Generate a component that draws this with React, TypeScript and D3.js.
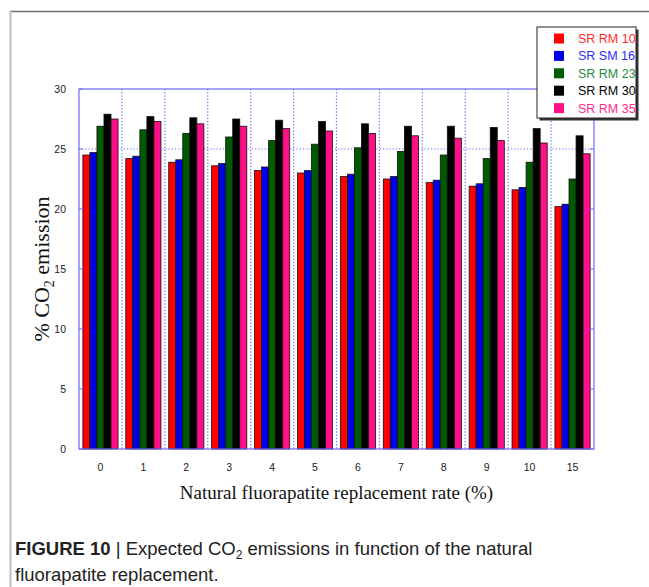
import React from "react";
import * as d3 from "d3";

const categories = ["0", "1", "2", "3", "4", "5", "6", "7", "8", "9", "10", "15"];
const seriesNames = ["SR RM 10", "SR SM 16", "SR RM 23", "SR RM 30", "SR RM 35"];
const srRm10 = [24.5, 24.2, 23.9, 23.6, 23.2, 23.0, 22.7, 22.5, 22.2, 21.9, 21.6, 20.2];
const srSm16 = [24.7, 24.4, 24.1, 23.8, 23.5, 23.2, 22.9, 22.7, 22.4, 22.1, 21.8, 20.4];
const srRm23 = [26.9, 26.6, 26.3, 26.0, 25.7, 25.4, 25.1, 24.8, 24.5, 24.2, 23.9, 22.5];
const srRm30 = [27.9, 27.7, 27.6, 27.5, 27.4, 27.3, 27.1, 26.9, 26.9, 26.8, 26.7, 26.1];
const srRm35 = [27.5, 27.3, 27.1, 26.9, 26.7, 26.5, 26.3, 26.1, 25.9, 25.7, 25.5, 24.6];
const yTicks = [0, 5, 10, 15, 20, 25, 30];

const barColors = ["#ff0000", "#0000e6", "#005a00", "#000000", "#ff1088"];
const textColors = ["#ff2a2a", "#2a2aff", "#1f8a3c", "#000000", "#ff2a90"];

const W = 649;
const H = 587;
const M = { left: 79, right: 594, top: 89, bottom: 449 };

export default function App() {
  const series = [srRm10, srSm16, srRm23, srRm30, srRm35];

  const x = d3.scaleBand().domain(categories).range([M.left, M.right]).padding(0);
  const xInner = d3
    .scaleBand()
    .domain(seriesNames)
    .range([0, x.bandwidth()])
    .paddingInner(0)
    .paddingOuter(0.55);
  const y = d3.scaleLinear().domain([0, 30]).range([M.bottom, M.top]);

  const axisBlue = "#6b6bff";
  const sans = "Liberation Sans, Arial, sans-serif";
  const serif = "Liberation Serif, Times New Roman, serif";

  return (
    <svg
      width={W}
      height={H}
      style={{ position: "absolute", left: 0, top: 0, background: "#fff" }}
    >
      {/* frame */}
      <line x1={10} x2={W} y1={11.5} y2={11.5} stroke="#707070" strokeWidth={1.5} />
      <line x1={10.5} x2={10.5} y1={11} y2={H} stroke="#bdbdbd" strokeWidth={2} />

      {/* grid */}
      {categories.slice(1).map((c) => (
        <line
          key={c}
          x1={x(c)!}
          x2={x(c)!}
          y1={M.top}
          y2={M.bottom}
          stroke={axisBlue}
          strokeWidth={1.2}
          strokeDasharray="1.2,2"
        />
      ))}
      <line
        x1={M.left}
        x2={M.right}
        y1={y(25)}
        y2={y(25)}
        stroke={axisBlue}
        strokeWidth={1.2}
        strokeDasharray="1.2,2"
      />

      {/* bars */}
      {categories.map((c, i) => (
        <g key={c} transform={`translate(${x(c)},0)`}>
          {series.map((vals, s) => (
            <rect
              key={s}
              x={xInner(seriesNames[s])!}
              y={y(vals[i])}
              width={xInner.bandwidth()}
              height={y(0) - y(vals[i])}
              fill={barColors[s]}
              stroke="#111"
              strokeWidth={0.8}
            />
          ))}
        </g>
      ))}

      {/* plot box */}
      <rect
        x={M.left}
        y={M.top}
        width={M.right - M.left}
        height={M.bottom - M.top}
        fill="none"
        stroke={axisBlue}
        strokeWidth={1.2}
      />
      {yTicks.map((t) => (
        <g key={t}>
          <line x1={M.left} x2={M.left + 4} y1={y(t)} y2={y(t)} stroke={axisBlue} />
          <line x1={M.right - 4} x2={M.right} y1={y(t)} y2={y(t)} stroke={axisBlue} />
          <text
            x={66}
            y={y(t)}
            dy="0.35em"
            textAnchor="end"
            fontFamily={sans}
            fontSize={10.5}
            fill="#222"
          >
            {t}
          </text>
        </g>
      ))}
      {categories.map((c) => (
        <text
          key={c}
          x={x(c)! + x.bandwidth() / 2}
          y={471}
          textAnchor="middle"
          fontFamily={sans}
          fontSize={10.5}
          fill="#222"
        >
          {c}
        </text>
      ))}

      {/* axis titles */}
      <text
        x={(M.left + M.right) / 2}
        y={499}
        textAnchor="middle"
        fontFamily={serif}
        fontSize={19}
        fill="#111"
      >
        Natural fluorapatite replacement rate (%)
      </text>
      <text
        transform={`translate(49,${(M.top + M.bottom) / 2}) rotate(-90)`}
        textAnchor="middle"
        fontFamily={serif}
        fontSize={22}
        fill="#111"
      >
        % CO
        <tspan fontSize={14} dy={5}>2</tspan>
        <tspan dy={-5}> emission</tspan>
      </text>

      {/* legend */}
      <rect x={539.5} y={29.5} width={99} height={91} fill="#333" />
      <rect x={537} y={27} width={99} height={91} fill="#fff" stroke="#222" strokeWidth={1} />
      {seriesNames.map((n, s) => (
        <g key={n} transform={`translate(0,${38.5 + s * 17.4})`}>
          <rect x={554} y={-5} width={10} height={10} fill={barColors[s]} />
          <text
            x={578}
            y={0}
            dy="0.36em"
            fontFamily={sans}
            fontSize={12.5}
            fill={textColors[s]}
          >
            {n}
          </text>
        </g>
      ))}

      {/* caption */}
      <text x={15} y={555} fontFamily={sans} fontSize={18.5} fill="#222">
        <tspan fontWeight="bold">FIGURE 10</tspan>
        <tspan> | Expected CO</tspan>
        <tspan fontSize={12} dy={4}>2</tspan>
        <tspan dy={-4}> emissions in function of the natural</tspan>
      </text>
      <text x={15} y={581} fontFamily={sans} fontSize={18.5} fill="#222">
        fluorapatite replacement.
      </text>
    </svg>
  );
}
